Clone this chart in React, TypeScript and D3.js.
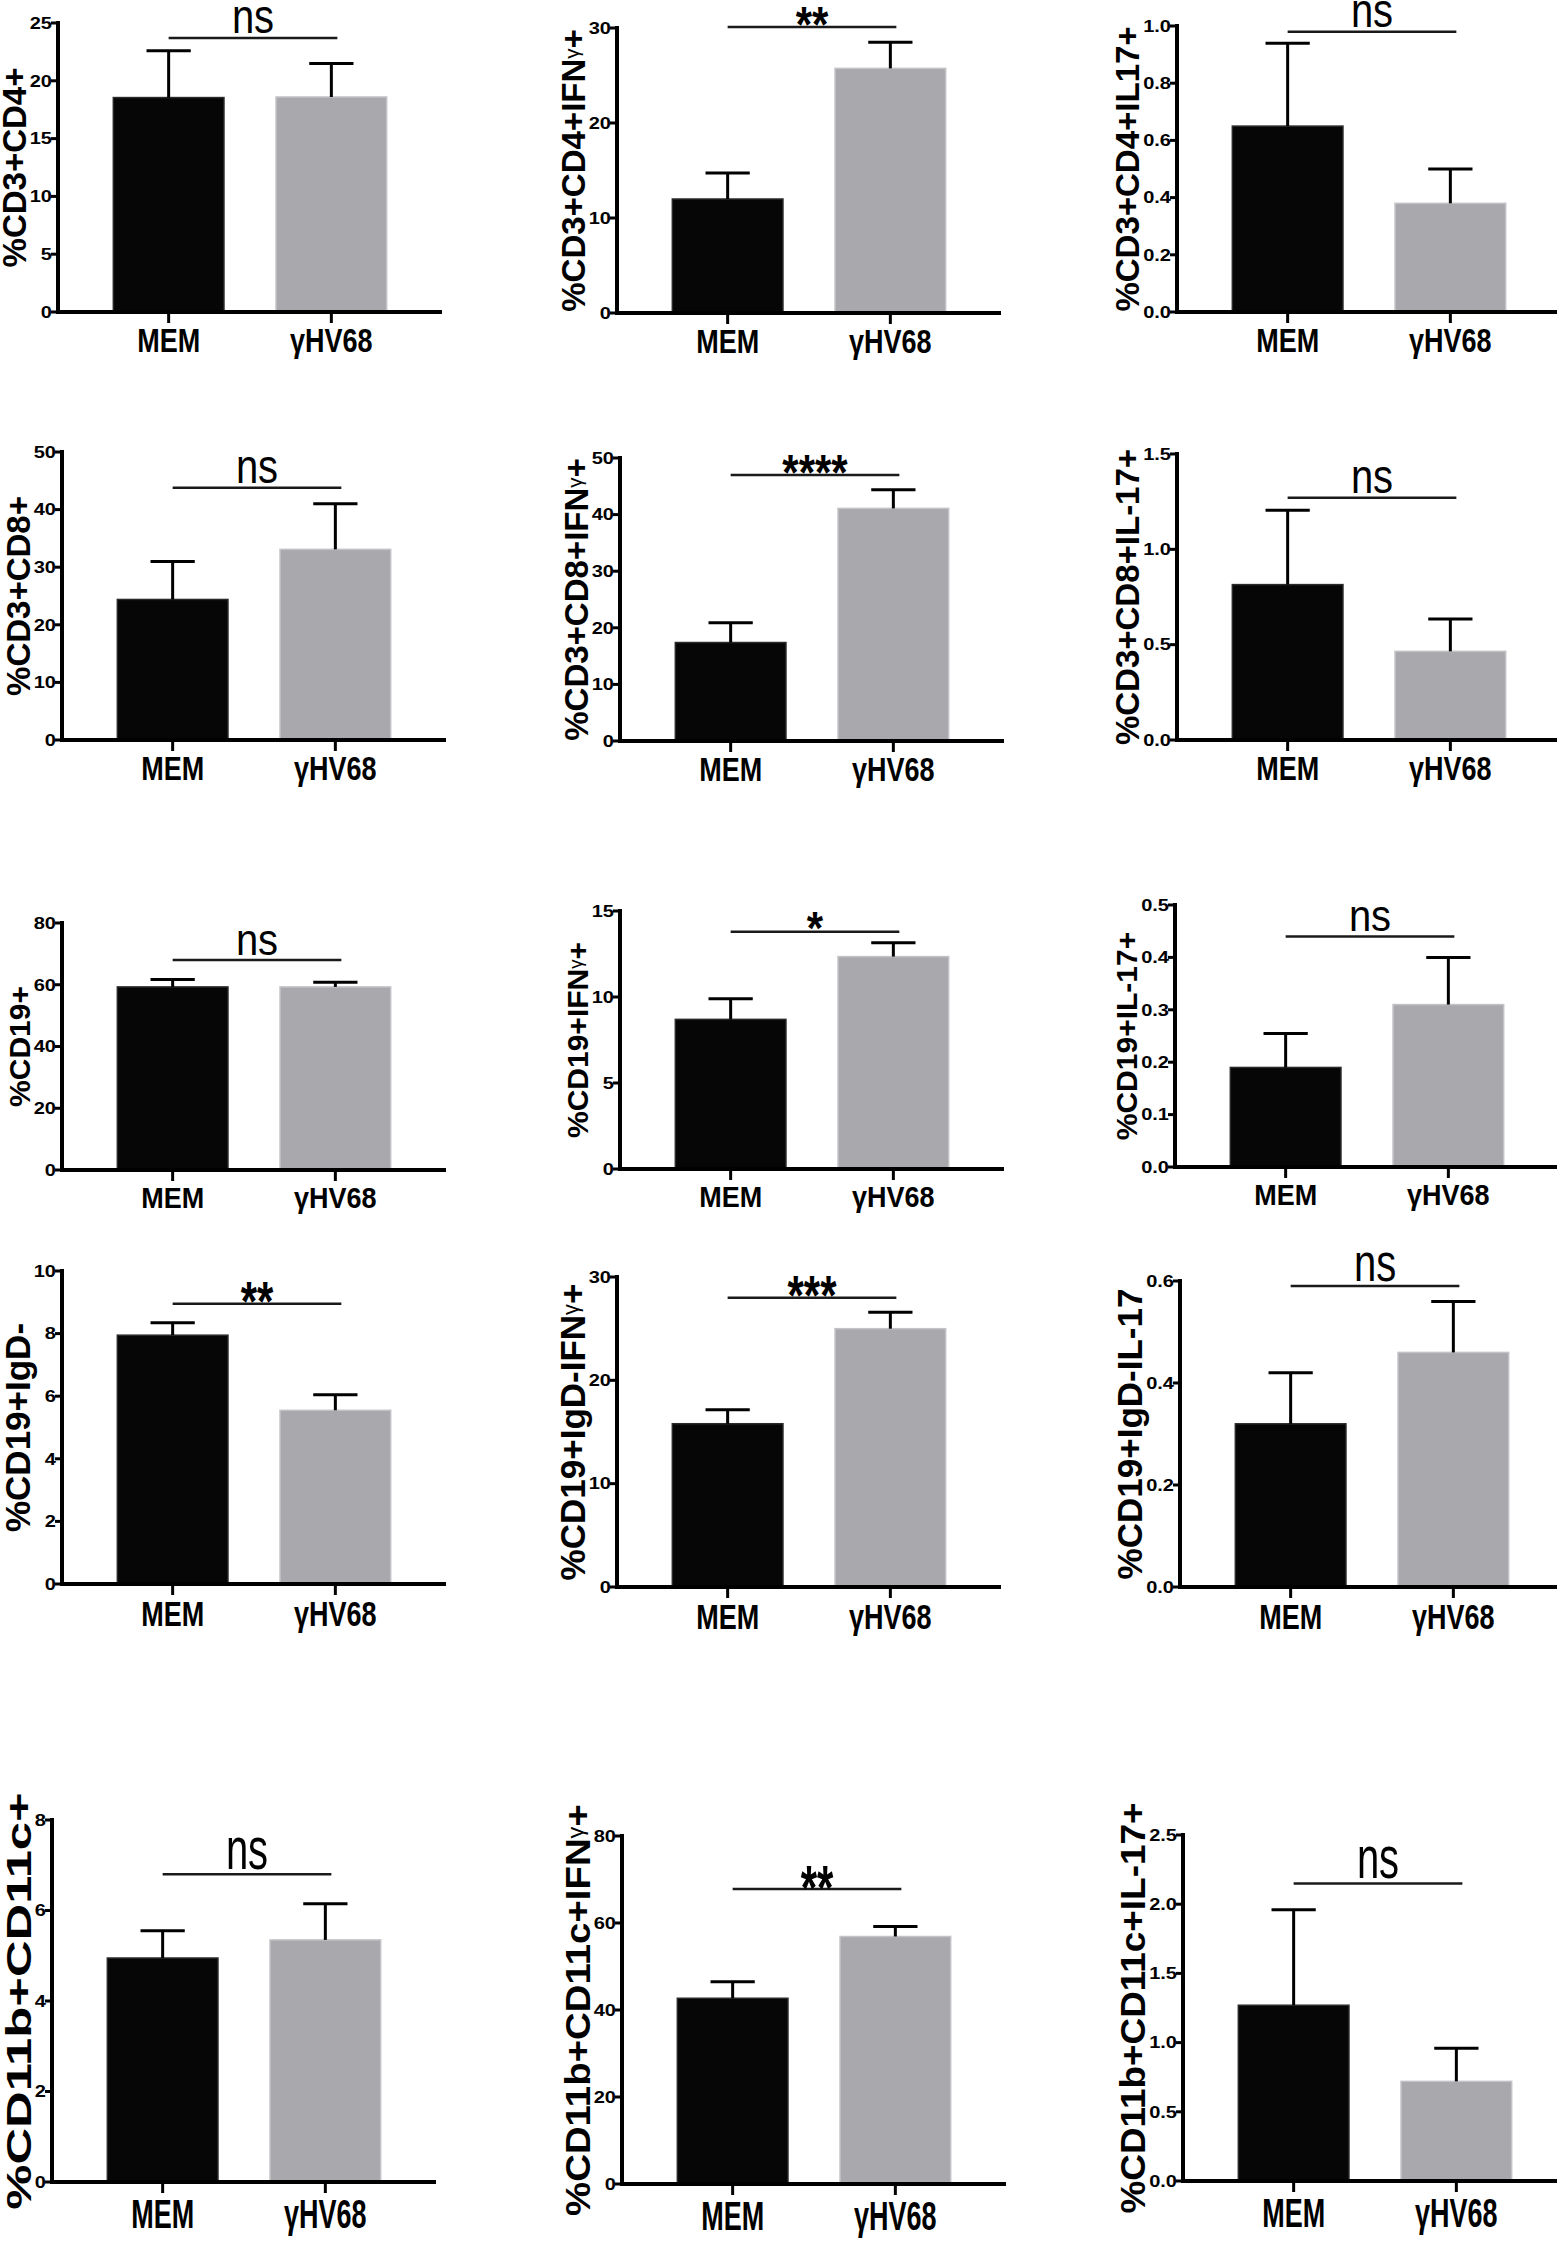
import React from 'react';
import * as d3 from 'd3';

// ---- data ----
const groups = ['MEM', 'γHV68'];

const yTitles = [
  '%CD3+CD4+', '%CD3+CD4+IFNγ+', '%CD3+CD4+IL17+',
  '%CD3+CD8+', '%CD3+CD8+IFNγ+', '%CD3+CD8+IL-17+',
  '%CD19+', '%CD19+IFNγ+', '%CD19+IL-17+',
  '%CD19+IgD-', '%CD19+IgD-IFNγ+', '%CD19+IgD-IL-17',
  '%CD11b+CD11c+', '%CD11b+CD11c+IFNγ+', '%CD11b+CD11c+IL-17+',
];

const memMeans = [18.55, 12.0, 0.65, 24.4, 17.4, 0.815, 59.3, 8.7, 0.19, 7.95, 15.8, 0.32, 4.95, 42.7, 1.27];
const memSem = [4.05, 2.75, 0.29, 6.6, 3.5, 0.39, 2.4, 1.2, 0.065, 0.4, 1.35, 0.1, 0.6, 3.8, 0.69];
const hvMeans = [18.6, 25.75, 0.38, 33.1, 41.1, 0.465, 59.3, 12.35, 0.31, 5.55, 25.0, 0.46, 5.35, 56.9, 0.72];
const hvSem = [2.9, 2.75, 0.12, 7.9, 3.3, 0.17, 1.5, 0.8, 0.09, 0.5, 1.6, 0.1, 0.8, 2.3, 0.24];

const yMax = [25, 30, 1.0, 50, 50, 1.5, 80, 15, 0.5, 10, 30, 0.6, 8, 80, 2.5];
const yStep = [5, 10, 0.2, 10, 10, 0.5, 20, 5, 0.1, 2, 10, 0.2, 2, 20, 0.5];

const sigLabels = ['ns', '**', 'ns', 'ns', '****', 'ns', 'ns', '*', 'ns', '**', '***', 'ns', 'ns', '**', 'ns'];
const sigLevel = [23.7, 30.1, 0.98, 43.8, 47.0, 1.27, 68, 13.8, 0.44, 8.95, 28, 0.59, 6.8, 67.8, 2.15];

// ---- layout ----
const W = 1558;
const H = 2242;
const PLOT_W = 384;

// y-axis x, pixel of the top tick, pixel of zero
const frames = [
  { x: 58, top: 23, zero: 312 }, { x: 617, top: 28, zero: 313 }, { x: 1177, top: 26, zero: 312 },
  { x: 62, top: 452, zero: 740 }, { x: 620, top: 458, zero: 741 }, { x: 1177, top: 454, zero: 740 },
  { x: 62, top: 923, zero: 1170 }, { x: 620, top: 911, zero: 1169 }, { x: 1175, top: 905, zero: 1167 },
  { x: 62, top: 1271, zero: 1584 }, { x: 617, top: 1277, zero: 1587 }, { x: 1180, top: 1281, zero: 1587 },
  { x: 52, top: 1820, zero: 2182 }, { x: 622, top: 1836, zero: 2184 }, { x: 1183, top: 1835, zero: 2181 },
];

// the panels were pasted at different aspect ratios, so text is stretched per row
const rowStretch = [1.2, 1.2, 1.1, 1.3, 1.5];
const rowTitleSize = [33, 33, 30, 35, 35];
const rowTitleStretch = [1, 1, 1, 1, 1.45];

const FONT = '"Liberation Sans", Arial, Helvetica, sans-serif';
const BLACK = '#060606';
const GREY = '#a9a8ad';
const TICK_FS = 20;
const TICK_SY = 0.8;

// Arial-bold advance widths (em) for the glyphs used in the titles
const ADV: Record<string, number> = {
  '%': 0.889, C: 0.722, D: 0.722, I: 0.278, F: 0.611, N: 0.722, L: 0.611,
  g: 0.611, b: 0.611, c: 0.556, '+': 0.584, '-': 0.333, '.': 0.278, 'γ': 0.345,
};
const textEm = (s: string) => s.split('').reduce((w, c) => w + (ADV[c] ?? 0.556), 0);

function Title({ text, x, y, size, stretch, maxLen }: {
  text: string; x: number; y: number; size: number; stretch: number; maxLen: number;
}) {
  const parts = text.split('γ');
  const nat = textEm(text) * size;
  const s = Math.min(stretch, Math.max(1, maxLen / nat));
  return (
    <text
      transform={`translate(${x},${y}) rotate(-90) scale(${s},1)`}
      textAnchor="middle"
      fontFamily={FONT}
      fontWeight="bold"
      fontSize={size}
      fill="#000"
    >
      {parts.map((p, i) => (
        <React.Fragment key={i}>
          {i > 0 && <tspan fontSize={size * 0.62} fontWeight="normal" dy={-size * 0.18}>γ</tspan>}
          <tspan dy={i > 0 ? size * 0.18 : 0}>{p}</tspan>
        </React.Fragment>
      ))}
    </text>
  );
}

function Panel({ i }: { i: number }) {
  const f = frames[i];
  const row = Math.floor(i / 3);
  const sy = rowStretch[row];

  const y = d3.scaleLinear().domain([0, yMax[i]]).range([f.zero, f.top]);
  const x = d3.scaleBand<string>()
    .domain(groups)
    .range([f.x, f.x + PLOT_W])
    .paddingInner(0.32)
    .paddingOuter(0.34);

  const ticks = d3.range(0, yMax[i] + yStep[i] / 2, yStep[i]);
  const fmt = yStep[i] < 1 ? d3.format('.1f') : d3.format('d');
  const means = [memMeans[i], hvMeans[i]];
  const sems = [memSem[i], hvSem[i]];
  const bw = x.bandwidth();
  const capW = bw * 0.4;
  const xEnd = Math.min(f.x + PLOT_W, W - 1);

  const c0 = (x(groups[0]) as number) + bw / 2;
  const c1 = (x(groups[1]) as number) + bw / 2;
  const sy0 = y(sigLevel[i]);
  const sig = sigLabels[i];
  const isStar = sig.includes('*');
  const maxLabelW = (d3.max(ticks, (t) => textEm(fmt(t))) as number) * TICK_FS;
  const titleX = f.x - 7 - maxLabelW - 3;

  return (
    <g>
      {/* bars */}
      {groups.map((g, k) => (
        <rect
          key={g}
          x={x(g)}
          y={y(means[k])}
          width={bw}
          height={f.zero - y(means[k])}
          fill={k === 0 ? BLACK : GREY}
          stroke={k === 0 ? '#2a2a2a' : '#c3c2c6'}
          strokeWidth={1.5}
        />
      ))}

      {/* error bars (upper only) */}
      {groups.map((g, k) => {
        const cx = (x(g) as number) + bw / 2;
        const yt = y(means[k] + sems[k]);
        return (
          <g key={g} stroke="#000" strokeWidth={3}>
            <line x1={cx} x2={cx} y1={y(means[k])} y2={yt} />
            <line x1={cx - capW / 2} x2={cx + capW / 2} y1={yt} y2={yt} />
          </g>
        );
      })}

      {/* y axis */}
      <line x1={f.x} x2={f.x} y1={f.top - 2} y2={f.zero + 2} stroke="#000" strokeWidth={4} />
      {ticks.map((t) => (
        <g key={t}>
          <line x1={f.x - 7} x2={f.x} y1={y(t)} y2={y(t)} stroke="#000" strokeWidth={3} />
          <text
            transform={`translate(${f.x - 6},${y(t) + TICK_FS * 0.36 * TICK_SY}) scale(1,${TICK_SY})`}
            textAnchor="end"
            fontFamily={FONT}
            fontWeight="bold"
            fontSize={TICK_FS}
            fill="#000"
          >
            {fmt(t)}
          </text>
        </g>
      ))}

      {/* x axis */}
      <line x1={f.x - 2} x2={xEnd} y1={f.zero} y2={f.zero} stroke="#000" strokeWidth={4} />
      {groups.map((g) => {
        const cx = (x(g) as number) + bw / 2;
        return (
          <g key={g}>
            <line x1={cx} x2={cx} y1={f.zero} y2={f.zero + 11} stroke="#000" strokeWidth={3} />
            <text
              transform={`translate(${cx},${f.zero + 17 + 19.3 * sy}) scale(1,${sy})`}
              textAnchor="middle"
              fontFamily={FONT}
              fontWeight="bold"
              fontSize={27}
              fill="#000"
            >
              {g}
            </text>
          </g>
        );
      })}

      {/* y title */}
      <Title
        text={yTitles[i]}
        x={titleX}
        y={(f.top + f.zero) / 2}
        size={rowTitleSize[row]}
        stretch={rowTitleStretch[row]}
        maxLen={(f.zero - f.top) * 1.2}
      />

      {/* significance bracket */}
      <line x1={c0} x2={c1 + 6} y1={sy0} y2={sy0} stroke="#1a1a1a" strokeWidth={2.5} />
      <text
        transform={
          isStar
            ? `translate(${(c0 + c1 + 6) / 2},${sy0 - 7 + 18 * sy}) scale(1,${sy})`
            : `translate(${(c0 + c1 + 6) / 2},${sy0 - 5}) scale(1,${sy})`
        }
        textAnchor="middle"
        fontFamily={FONT}
        fontWeight={isStar ? 'bold' : 'normal'}
        fontSize={isStar ? 42 : 40}
        fill="#000"
      >
        {sig}
      </text>
    </g>
  );
}

export default function App() {
  return (
    <svg
      width={W}
      height={H}
      viewBox={`0 0 ${W} ${H}`}
      style={{ position: 'absolute', left: 0, top: 0, background: '#fff' }}
    >
      <rect width={W} height={H} fill="#fff" />
      {frames.map((_, i) => (
        <Panel key={i} i={i} />
      ))}
    </svg>
  );
}
